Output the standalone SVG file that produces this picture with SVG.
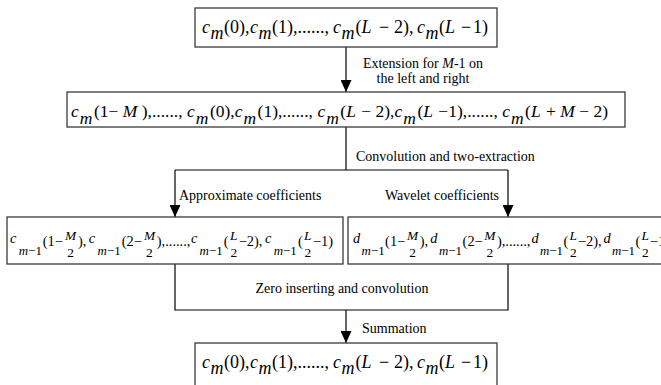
<svg xmlns="http://www.w3.org/2000/svg" width="661" height="385" viewBox="0 0 661 385">
<defs>
<style>
.box{fill:#fff;stroke:#3a3a3a;stroke-width:1.3}
.ln{stroke:#000;stroke-width:1.2;fill:none}
.lbl{font-family:"Liberation Serif","Times New Roman",serif;font-size:14px;fill:#000}
.eq{font-family:"Liberation Serif","Times New Roman",serif;font-size:18px;fill:#000}
.eq2{font-family:"Liberation Serif","Times New Roman",serif;font-size:17.5px;fill:#000}
.eqs{font-family:"Liberation Serif","Times New Roman",serif;font-size:14.4px;fill:#000}
.i{font-style:italic}
.sb{font-size:12.9px}
.fr{font-size:13.4px}
</style>
<marker id="ah" viewBox="0 0 12 11" refX="12" refY="5.5" markerWidth="12" markerHeight="11" markerUnits="userSpaceOnUse" orient="auto">
<path d="M0,0 L12,5.5 L0,11 z" fill="#000"/>
</marker>
</defs>
<rect width="661" height="385" fill="#fff"/>

<g id="connectors">
<line class="ln" x1="346" y1="47" x2="346" y2="92" marker-end="url(#ah)"/>
<line class="ln" x1="346" y1="127" x2="346" y2="170"/>
<line class="ln" x1="175" y1="170" x2="508" y2="170"/>
<line class="ln" x1="175" y1="170" x2="175" y2="217" marker-end="url(#ah)"/>
<line class="ln" x1="508" y1="170" x2="508" y2="217" marker-end="url(#ah)"/>
<polyline class="ln" points="175,264 175,310 508,310 508,264"/>
<line class="ln" x1="346" y1="310" x2="346" y2="343" marker-end="url(#ah)"/>
<text class="lbl" x="423" y="68" text-anchor="middle">Extension for <tspan class="i">M</tspan>-1 on</text>
<text class="lbl" x="423" y="83" text-anchor="middle">the left and right</text>
<text class="lbl" x="356" y="161">Convolution and two-extraction</text>
<text class="lbl" x="179" y="200">Approximate coefficients</text>
<text class="lbl" x="499" y="200" text-anchor="end">Wavelet coefficients</text>
<text class="lbl" x="342" y="293" text-anchor="middle">Zero inserting and convolution</text>
<text class="lbl" x="362" y="333">Summation</text>
</g>

<g id="top">
<rect class="box" x="195" y="8" width="302" height="39"/>
<text class="eq" y="33"><tspan class="i" x="202">c</tspan><tspan class="i" x="210.5" y="39">m</tspan><tspan x="224" y="33">(0),</tspan><tspan class="i" x="250">c</tspan><tspan class="i" x="258.5" y="39">m</tspan><tspan x="272" y="33">(1),......,</tspan><tspan class="i" x="333">c</tspan><tspan class="i" x="341.5" y="39">m</tspan><tspan x="355.5" y="33">(</tspan><tspan class="i">L</tspan><tspan x="379">−</tspan><tspan x="394">2),</tspan><tspan class="i" x="417">c</tspan><tspan class="i" x="425.5" y="39">m</tspan><tspan x="439" y="33">(</tspan><tspan class="i">L</tspan><tspan x="461">−</tspan><tspan x="473">1)</tspan></text>
</g>

<g id="extended">
<rect class="box" x="67" y="92" width="558" height="35"/>
<text class="eq2" y="117"><tspan class="i" x="71">c</tspan><tspan class="i" x="79.8" y="124">m</tspan><tspan x="93.9" y="117">(1−</tspan><tspan class="i" x="122.8">M</tspan><tspan x="141.8">),......,</tspan><tspan class="i" x="187">c</tspan><tspan class="i" x="195.8" y="124">m</tspan><tspan x="209.9" y="117">(0),</tspan><tspan class="i" x="234.7">c</tspan><tspan class="i" x="243.5" y="124">m</tspan><tspan x="257.6" y="117">(1),......,</tspan><tspan class="i" x="317.4">c</tspan><tspan class="i" x="326.2" y="124">m</tspan><tspan x="340.3" y="117">(</tspan><tspan class="i">L</tspan><tspan x="361.2">−</tspan><tspan x="375.5">2),</tspan><tspan class="i" x="394.5">c</tspan><tspan class="i" x="403.3" y="124">m</tspan><tspan x="417.4" y="117">(</tspan><tspan class="i">L</tspan><tspan x="438.3">−</tspan><tspan x="448.2">1),......,</tspan><tspan class="i" x="502.2">c</tspan><tspan class="i" x="511" y="124">m</tspan><tspan x="525.1" y="117">(</tspan><tspan class="i">L</tspan><tspan x="546">+</tspan><tspan class="i" x="560.3">M</tspan><tspan x="579.3">−</tspan><tspan x="593.6">2)</tspan></text>
</g>

<g id="approx">
<rect class="box" x="7" y="217" width="336" height="47"/>
<text class="eqs"><tspan class="i" x="10" y="243">c</tspan><tspan class="sb" x="18.8" y="255"><tspan class="i">m</tspan>−1</tspan><tspan x="42.7" y="246">(1−</tspan><tspan class="i fr" x="65.1" y="240">M</tspan><tspan class="fr" x="67.3" y="257">2</tspan><tspan x="78" y="246">),</tspan><tspan class="i" x="88.8" y="243">c</tspan><tspan class="sb" x="97.6" y="255"><tspan class="i">m</tspan>−1</tspan><tspan x="121.8" y="246">(2−</tspan><tspan class="i fr" x="143.9" y="240">M</tspan><tspan class="fr" x="146.1" y="257">2</tspan><tspan x="156.8" y="246">),......,</tspan><tspan class="i" x="191" y="243">c</tspan><tspan class="sb" x="199.6" y="255"><tspan class="i">m</tspan>−1</tspan><tspan x="223.7" y="246">(</tspan><tspan class="i fr" x="229.9" y="240">L</tspan><tspan class="fr" x="230.4" y="257">2</tspan><tspan x="238.7" y="246">−2),</tspan><tspan class="i" x="264.9" y="243">c</tspan><tspan class="sb" x="273.7" y="255"><tspan class="i">m</tspan>−1</tspan><tspan x="297.9" y="246">(</tspan><tspan class="i fr" x="304.1" y="240">L</tspan><tspan class="fr" x="304.5" y="257">2</tspan><tspan x="312.9" y="246">−1)</tspan></text>
</g>

<g id="wavelet">
<rect class="box" x="348" y="217" width="330" height="47"/>
<text class="eqs"><tspan class="i" x="353" y="243">d</tspan><tspan class="sb" x="361.6" y="255"><tspan class="i">m</tspan>−1</tspan><tspan x="385.1" y="246">(1−</tspan><tspan class="i fr" x="407" y="240">M</tspan><tspan class="fr" x="409.2" y="257">2</tspan><tspan x="419.7" y="246">),</tspan><tspan class="i" x="430.2" y="243">d</tspan><tspan class="sb" x="438.9" y="255"><tspan class="i">m</tspan>−1</tspan><tspan x="462.6" y="246">(2−</tspan><tspan class="i fr" x="484.2" y="240">M</tspan><tspan class="fr" x="486.4" y="257">2</tspan><tspan x="496.9" y="246">),......,</tspan><tspan class="i" x="531.5" y="243">d</tspan><tspan class="sb" x="540" y="255"><tspan class="i">m</tspan>−1</tspan><tspan x="563.5" y="246">(</tspan><tspan class="i fr" x="569.5" y="240">L</tspan><tspan class="fr" x="570" y="257">2</tspan><tspan x="578" y="246">−2),</tspan><tspan class="i" x="603.5" y="243">d</tspan><tspan class="sb" x="612" y="255"><tspan class="i">m</tspan>−1</tspan><tspan x="635.5" y="246">(</tspan><tspan class="i fr" x="641.5" y="240">L</tspan><tspan class="fr" x="642" y="257">2</tspan><tspan x="650" y="246">−1)</tspan></text>
</g>

<g id="result">
<rect class="box" x="195" y="343" width="302" height="50"/>
<text class="eq" y="368"><tspan class="i" x="202">c</tspan><tspan class="i" x="210.5" y="374">m</tspan><tspan x="224" y="368">(0),</tspan><tspan class="i" x="250">c</tspan><tspan class="i" x="258.5" y="374">m</tspan><tspan x="272" y="368">(1),......,</tspan><tspan class="i" x="333">c</tspan><tspan class="i" x="341.5" y="374">m</tspan><tspan x="355.5" y="368">(</tspan><tspan class="i">L</tspan><tspan x="379">−</tspan><tspan x="394">2),</tspan><tspan class="i" x="417">c</tspan><tspan class="i" x="425.5" y="374">m</tspan><tspan x="439" y="368">(</tspan><tspan class="i">L</tspan><tspan x="461">−</tspan><tspan x="473">1)</tspan></text>
</g>
</svg>
